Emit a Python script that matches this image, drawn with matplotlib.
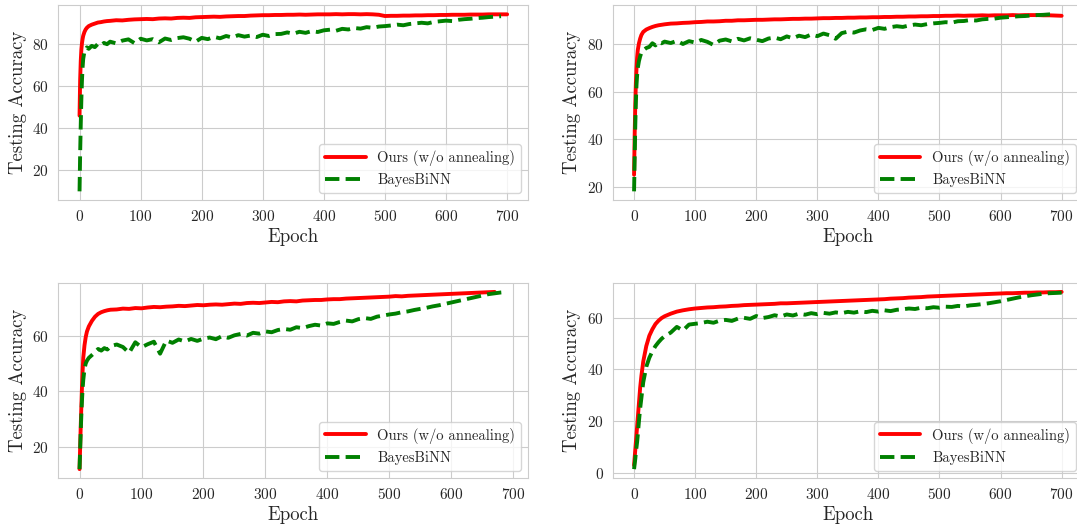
import matplotlib
matplotlib.use('Agg')
import matplotlib.pyplot as plt
import seaborn as sns

epochs = [0, 1, 2, 3, 4, 5, 6, 8, 10, 12, 15, 20, 25, 30, 35, 40, 45] + list(range(50, 701, 10))

ours_1 = [46, 63, 72, 77.5, 80.5, 82.5, 84, 85.8, 87, 87.8, 88.6, 89.3, 89.8, 90.3, 90.5, 90.8, 91.0,
          91.1, 91.4, 91.3, 91.6, 91.8, 91.9, 92.0, 91.9, 92.2, 92.3, 92.2, 92.5, 92.6, 92.5, 92.8, 92.9,
          93.0, 93.1, 93.0, 93.2, 93.3, 93.4, 93.4, 93.6, 93.7, 93.8, 93.8, 93.9, 93.9, 94.0, 94.0, 94.1,
          94.0, 94.1, 94.2, 94.2, 94.2, 94.3, 94.2, 94.3, 94.3, 94.2, 94.3, 94.2, 94.0, 93.4, 93.5, 93.5,
          93.6, 93.6, 93.7, 93.7, 93.8, 93.8, 93.9, 93.9, 94.0, 94.0, 94.0, 94.1, 94.1, 94.1, 94.2, 94.2,
          94.2, 94.2]
bayes_1 = [10, 28, 42, 54, 63, 69, 73, 76.5, 77.2, 78.5, 77.8, 79.2, 78.6, 80.1, 79.4, 80.6, 80.0,
           81.2, 80.4, 81.7, 82.3, 80.5, 82.6, 81.8, 82.4, 80.9, 82.7, 82.0, 82.9, 83.3, 82.6, 81.2, 83.0,
           82.4, 83.5, 82.8, 83.9, 83.2, 84.3, 83.6, 84.1, 83.4, 84.5, 83.9, 84.8, 84.9, 85.6, 85.0, 85.9,
           85.4, 86.2, 85.8, 86.6, 86.9, 86.4, 87.3, 87.0, 87.7, 87.4, 88.1, 87.8, 88.4, 88.6, 88.9, 89.3,
           89.0, 89.6, 89.9, 90.2, 89.9, 90.6, 90.9, 91.2, 91.0, 91.6, 91.9, 92.1, 92.4, 92.6, 92.9, 93.1,
           93.3]

ours_2 = [25, 42, 55, 64, 70, 74.5, 77.5, 80.5, 82.5, 84, 85.3, 86.3, 86.9, 87.4, 87.8, 88.1, 88.3,
          88.5, 88.8, 88.9, 89.1, 89.2, 89.4, 89.5, 89.7, 89.7, 89.8, 90.0, 90.0, 90.2, 90.2, 90.3, 90.4,
          90.4, 90.5, 90.6, 90.6, 90.7, 90.8, 90.8, 90.9, 90.9, 91.0, 91.1, 91.1, 91.2, 91.2, 91.3, 91.3,
          91.4, 91.4, 91.5, 91.5, 91.6, 91.6, 91.7, 91.7, 91.8, 91.8, 91.9, 91.9, 92.0, 92.0, 92.1, 92.1,
          92.2, 92.1, 92.2, 92.2, 92.3, 92.2, 92.3, 92.3, 92.3, 92.4, 92.3, 92.4, 92.4, 92.4, 92.3, 92.3,
          92.2, 92.1]
bayes_2 = [18, 32, 46, 56, 63, 67, 70, 73, 75, 76.5, 77.5, 78.5, 79, 80.5, 79.6, 81, 80.5,
           81.2, 80.6, 81.5, 80.2, 81.4, 80.8, 81.9, 81.1, 79.8, 81.6, 82.1, 81.3, 82.4, 81.7, 82.6, 82.0,
           81.4, 82.5, 82.9, 82.2, 83.4, 82.6, 83.7, 83.1, 84.2, 83.5, 84.6, 83.9, 82.4, 84.8, 85.4, 85.0,
           85.9, 86.4, 86.1, 87.0, 86.6, 87.3, 87.7, 87.4, 88.0, 88.4, 88.1, 88.6, 88.9, 89.1, 89.4, 89.2,
           89.8, 89.9, 90.3, 90.1, 90.6, 90.8, 90.9, 91.3, 91.5, 91.7, 91.9, 92.0, 92.2, 92.4, 92.5, 92.7,
           92.8]

ours_3 = [12, 20, 28, 35, 42, 47.5, 52, 56.5, 59.5, 61.5, 63.3, 65.3, 66.8, 67.8, 68.4, 68.8, 69.1,
          69.3, 69.4, 69.7, 69.6, 69.9, 69.8, 70.1, 70.3, 70.2, 70.4, 70.5, 70.7, 70.6, 70.8, 71.0, 70.9,
          71.1, 71.2, 71.1, 71.3, 71.5, 71.4, 71.7, 71.8, 71.7, 71.9, 72.1, 72.0, 72.3, 72.4, 72.3, 72.6,
          72.7, 72.8, 72.8, 73.0, 73.1, 73.1, 73.3, 73.4, 73.5, 73.6, 73.7, 73.8, 73.9, 74.0, 74.2, 74.1,
          74.3, 74.4, 74.5, 74.6, 74.7, 74.8, 74.9, 75.0, 75.1, 75.2, 75.3, 75.4, 75.5, 75.6, 75.7]
bayes_3 = [12, 19, 26, 32, 37, 41, 44, 48, 50, 51, 52, 53, 54, 55.2, 54.6, 55.5, 55.0,
           56.2, 56.8, 55.9, 53.8, 57.6, 55.8, 56.9, 57.8, 53.5, 58.2, 57.4, 58.6, 57.9, 58.8, 58.1, 58.9,
           59.3, 58.7, 59.8, 59.2, 60.1, 60.6, 60.0, 61.0, 60.7, 61.5, 61.2, 62.0, 62.4, 62.1, 63.0, 62.7,
           63.4, 63.9, 63.6, 64.4, 64.2, 64.9, 65.4, 65.1, 65.9, 66.3, 66.0, 66.8, 67.2, 67.6, 67.9, 68.4,
           68.7, 69.2, 69.6, 70.0, 70.5, 70.9, 71.4, 71.9, 72.4, 72.9, 73.4, 73.9, 74.4, 74.9, 75.2, 75.5,
           75.7]

ours_4 = [3, 6, 9, 12, 15, 18, 21, 27, 33, 37.5, 43, 49, 53, 55.5, 57.5, 58.8, 59.8,
          60.5, 61.5, 62.3, 62.8, 63.2, 63.5, 63.7, 63.9, 64.0, 64.2, 64.3, 64.5, 64.6, 64.8, 64.9, 65.0,
          65.1, 65.2, 65.3, 65.5, 65.5, 65.6, 65.7, 65.8, 65.9, 66.0, 66.1, 66.2, 66.3, 66.4, 66.5, 66.6,
          66.7, 66.8, 66.9, 67.0, 67.1, 67.3, 67.4, 67.5, 67.7, 67.8, 67.9, 68.1, 68.2, 68.3, 68.4, 68.5,
          68.6, 68.7, 68.8, 68.9, 69.0, 69.1, 69.2, 69.3, 69.4, 69.4, 69.5, 69.6, 69.6, 69.7, 69.7, 69.8,
          69.8, 69.9]
bayes_4 = [1.5, 3.5, 5.5, 8, 10, 12, 14.5, 20, 25, 29, 35, 41, 44.5, 47, 49, 50.5, 51.8,
           52.8, 54.2, 56.4, 55.0, 57.3, 57.6, 57.9, 58.4, 58.0, 58.8, 59.1, 58.7, 59.6, 59.9, 59.5, 60.6,
           59.8, 60.2, 60.9, 60.4, 61.2, 60.8, 61.5, 61.1, 61.7, 61.3, 61.8, 61.5, 62.0, 61.7, 62.2, 61.9,
           62.4, 62.1, 62.6, 62.3, 62.8, 62.5, 63.0, 63.2, 63.5, 63.3, 63.8, 63.6, 64.0, 63.8, 64.2, 64.1,
           64.5, 64.3, 64.7, 64.9, 65.2, 65.5, 65.9, 66.3, 66.8, 67.3, 67.8, 68.2, 68.6, 68.9, 69.2, 69.4,
           69.5, 69.6]

panels = [(ours_1, bayes_1), (ours_2, bayes_2), (ours_3, bayes_3), (ours_4, bayes_4)]

sns.set_style('whitegrid')
plt.rcParams['font.family'] = 'serif'
plt.rcParams['font.serif'] = ['cmr10', 'DejaVu Serif']
plt.rcParams['mathtext.fontset'] = 'cm'
plt.rcParams['axes.unicode_minus'] = False
plt.rcParams['axes.formatter.use_mathtext'] = True

fig, axes = plt.subplots(2, 2, figsize=(10.77, 5.27), dpi=100)
# right column runs slightly past the figure edge, as in the original
fig.subplots_adjust(left=0.054, right=1.0056, top=0.99, bottom=0.093, wspace=0.179, hspace=0.425)

for ax, (ours, bayes) in zip(axes.flat, panels):
    ax.plot(epochs[:len(ours)], ours, color='red', lw=2.8, label='Ours (w/o annealing)')
    ax.plot(epochs[:len(bayes)], bayes, color='green', lw=2.8, ls='--', label='BayesBiNN')
    ax.set_xticks(range(0, 701, 100))
    ax.set_xlabel('Epoch', fontsize=13.5, labelpad=3)
    ax.set_ylabel('Testing Accuracy', fontsize=13.5, labelpad=4)
    ax.tick_params(axis='both', labelsize=11, pad=3)
    ax.legend(loc='lower right', fontsize=10.5, handlelength=2.8, frameon=True)

fig.savefig('out.png', dpi=100)
